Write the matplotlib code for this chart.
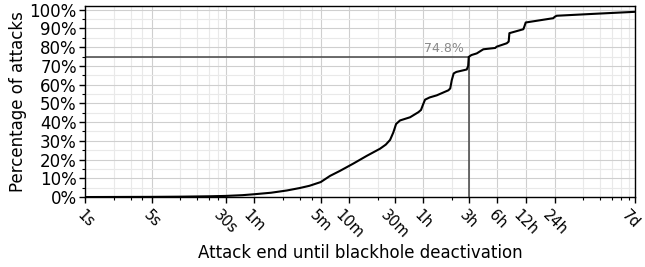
import matplotlib
matplotlib.use("Agg")
import matplotlib.pyplot as plt
import matplotlib.transforms as mtransforms
from matplotlib.ticker import FixedLocator, PercentFormatter

# CDF of time from attack end until blackhole deactivation (seconds, fraction)
seconds = [1, 5, 10, 20, 30, 45, 60, 90, 132, 180, 228, 300, 376, 479, 662, 915,
           1260, 1450, 1608, 1740, 1860, 2047, 2610, 3190, 3400, 3548, 3750, 4200,
           4976, 6600, 6900, 7160, 7500, 8000, 10290, 10650, 10800, 11500, 13120,
           14200, 15390, 20500, 21270, 27100, 28400, 28900, 40500, 41500, 42900,
           83700, 86400, 90800, 220000, 604800]
cdf_pct = [0.0, 0.1, 0.2, 0.4, 0.6, 1.0, 1.5, 2.3, 3.5, 4.8, 6.0, 8.0, 11.3, 14.0,
           17.9, 22.0, 25.8, 28.0, 30.5, 34.5, 39.0, 40.9, 42.6, 45.3, 46.5, 49.0,
           52.0, 53.2, 54.3, 57.0, 58.0, 62.4, 66.0, 66.8, 68.1, 70.0, 74.8, 75.8,
           76.7, 77.8, 78.9, 79.6, 80.3, 82.1, 83.0, 87.5, 89.6, 91.0, 93.2, 95.5,
           96.2, 96.8, 97.8, 98.9]

major_ticks = [1, 5, 30, 60, 300, 600, 1800, 3600, 10800, 21600, 43200, 86400, 604800]
major_labels = ["1s", "5s", "30s", "1m", "5m", "10m", "30m", "1h", "3h", "6h", "12h", "24h", "7d"]
minor_ticks = [2, 3, 4, 10, 15, 20, 25, 120, 180, 240, 1200, 7200,
               172800, 259200, 345600, 432000, 518400]

marker_seconds = 10800
marker_pct = 74.8
marker_label = "74.8%"

fig = plt.figure(figsize=(6.45, 2.67), dpi=100)
ax = fig.add_axes([0.132, 0.262, 0.8525, 0.7155])

ax.set_xscale("log")
ax.set_xlim(1, 604800)
ax.set_ylim(0, 102)

ax.xaxis.set_major_locator(FixedLocator(major_ticks))
ax.set_xticks(major_ticks)
ax.set_xticklabels(major_labels, rotation=-45, ha="center")
ax.xaxis.set_minor_locator(FixedLocator(minor_ticks))
ax.xaxis.set_minor_formatter(plt.NullFormatter())

ax.set_yticks(range(0, 101, 10))
ax.yaxis.set_minor_locator(FixedLocator(list(range(5, 100, 10))))
ax.yaxis.set_major_formatter(PercentFormatter(decimals=0))

ax.grid(True, which="major", color="#cfcfcf", linewidth=0.8)
ax.grid(True, which="minor", color="#e9e9e9", linewidth=0.8)
ax.set_axisbelow(True)

ax.tick_params(axis="y", which="major", labelsize=12, length=4, width=1, pad=2)
ax.tick_params(axis="x", which="major", labelsize=10.5, length=4, width=1)
ax.tick_params(axis="both", which="minor", length=2, width=0.8)

# nudge the last (edge) tick label slightly left so it stays inside the figure
last_lbl = ax.get_xticklabels()[-1]
last_lbl.set_transform(last_lbl.get_transform() +
                       mtransforms.ScaledTranslation(-4 / 100, 0, fig.dpi_scale_trans))

ax.plot(seconds, cdf_pct, color="black", linewidth=1.5, zorder=3)

ax.plot([1, marker_seconds], [marker_pct, marker_pct], color="#444444", linewidth=1.1, zorder=2)
ax.plot([marker_seconds, marker_seconds], [0, marker_pct], color="#444444", linewidth=1.1, zorder=2)
ax.text(marker_seconds * 0.88, marker_pct + 1.0, marker_label, ha="right", va="bottom",
        color="#8a8a8a", fontsize=9)

for s in ax.spines.values():
    s.set_linewidth(1.0)

ax.set_xlabel("Attack end until blackhole deactivation", fontsize=12, labelpad=2)
ax.set_ylabel("Percentage of attacks", fontsize=12, labelpad=2)

fig.savefig("out.png", dpi=100)
